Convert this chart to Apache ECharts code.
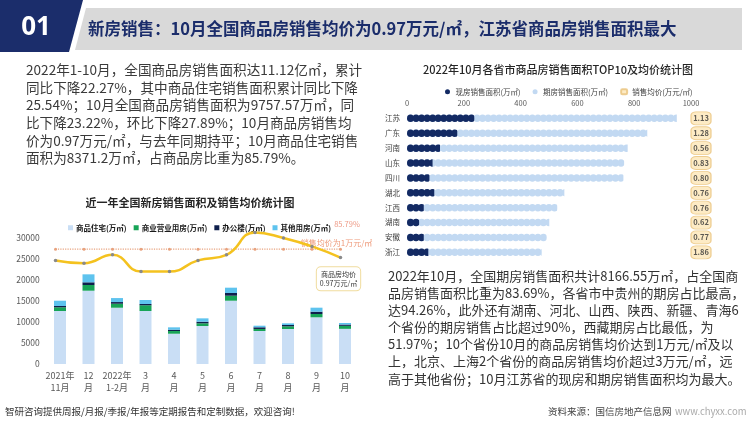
<!DOCTYPE html>
<html><head><meta charset="utf-8">
<script src="https://cdn.jsdelivr.net/npm/echarts@6/dist/echarts.min.js"></script>
<style>html,body{margin:0;padding:0;background:#fff;}#c{width:750px;height:422px;}</style>
</head><body><div id="c"></div>
<script>
// ---- Left chart data ----
const months = ['2021年\n11月','12\n月','2022年\n1-2月','3\n月','4\n月','5\n月','6\n月','7\n月','8\n月','9\n月','10\n月'];
const residential = [12620, 17450, 13400, 12620, 7210, 9050, 15070, 7860, 8330, 11120, 8371.2];
const commercial = [880, 1360, 950, 1360, 640, 640, 1190, 480, 640, 790, 714];
const office = [310, 640, 400, 310, 310, 380, 640, 400, 310, 550, 310];
const other = [1260, 1900, 950, 950, 570, 800, 1270, 380, 400, 950, 362];
const avgPrice = [0.96, 0.95, 0.98, 0.92, 0.92, 0.96, 0.98, 1.06, 1.04, 1.01, 0.97];
const refPrice = [1, 1, 1, 1, 1, 1, 1, 1, 1, 1, 1];
const leftTicks = [0, 5000, 10000, 15000, 20000, 25000, 30000];

// ---- Right chart data ----
const provinces = ['江苏','广东','河南','山东','四川','湖北','江西','湖南','安徽','浙江'];
const spotArea = [237, 177, 116, 90, 79, 96, 59, 43, 59, 75];
const futureArea = [713, 669, 661, 675, 683, 458, 470, 458, 433, 399];
const provPrice = [1.13, 1.28, 0.56, 0.83, 0.80, 0.76, 0.76, 0.62, 0.77, 1.86];
const rightTicks = [0, 200, 400, 600, 800, 1000];

const FF = '"Noto Sans CJK SC","Noto Sans",sans-serif';
const NAMES = ['商品住宅(万㎡)','商业营业用房(万㎡)','办公楼(万㎡)','其他用房(万㎡)'];

const leftLines = [
 '2022年1-10月，全国商品房销售面积达11.12亿㎡，累计',
 '同比下降22.27%，其中商品住宅销售面积累计同比下降',
 '25.54%；10月全国商品房销售面积为9757.57万㎡，同',
 '比下降23.22%，环比下降27.89%；10月商品房销售均',
 '价为0.97万元/㎡，与去年同期持平；10月商品住宅销售',
 '面积为8371.2万㎡，占商品房比重为85.79%。'
];
const rightLines = [
 '2022年10月，全国期房销售面积共计8166.55万㎡，占全国商',
 '品房销售面积比重为83.69%，各省市中贵州的期房占比最高，',
 '达94.26%，此外还有湖南、河北、山西、陕西、新疆、青海6',
 '个省份的期房销售占比超过90%，西藏期房占比最低，为',
 '51.97%；10个省份10月的商品房销售均价达到1万元/㎡及以',
 '上，北京、上海2个省份的商品房销售均价超过3万元/㎡，远',
 '高于其他省份；10月江苏省的现房和期房销售面积均为最大。'
];

function txt(x, y, text, font, fill, align) {
  return {type:'text', x:x, y:y, z:10, style:{text:text, font:font, fill:fill, textAlign:align||'left', textVerticalAlign:'middle'}};
}
const graphics = [
  {type:'polygon', shape:{points:[[0,0],[83,0],[69,52],[0,52]]}, style:{fill:'#1b2d6b'}},
  {type:'polygon', shape:{points:[[86,8],[742,8],[742,50],[75,50]]}, style:{fill:'#d9d9d9'}},
  txt(36, 28, '01', 'bold 26px "Noto Sans",sans-serif', '#ffffff', 'center'),
  txt(88, 29, '新房销售：10月全国商品房销售均价为0.97万元/㎡，江苏省商品房销售面积最大', 'bold 16.5px '+FF, '#1b2d6b'),
  txt(190, 203, '近一年全国新房销售面积及销售均价统计图', 'bold 11px '+FF, '#262626', 'center'),
  txt(558, 70, '2022年10月各省市商品房销售面积TOP10及均价统计图', '500 11px '+FF, '#262626', 'center'),
  txt(347, 224, '85.79%', '7.5px '+FF, '#ee9c88', 'center'),
  txt(5, 411, '智研咨询提供周报/月报/季报/年报等定期报告和定制数据，欢迎咨询!', '9.5px '+FF, '#333333'),
  txt(548, 411, '资料来源：国信房地产信息网', '9.5px '+FF, '#444444'),
  txt(675, 411, 'www.chyxx.com', '9.5px '+FF, '#aaaaaa')
];
leftLines.forEach((l,i)=>graphics.push(txt(26, 70 + i*17.6, l, '13.6px '+FF, '#3a3a3a')));
rightLines.forEach((l,i)=>graphics.push(txt(388, 276 + i*17.1, l, '13px '+FF, '#333333')));

const plain = v => String(v);
const chart = echarts.init(document.getElementById('c'), null, {renderer:'canvas'});
const lastIdx = avgPrice.length - 1;
chart.setOption({
  animation:false,
  backgroundColor:'#ffffff',
  textStyle:{fontFamily:FF},
  graphic: graphics,
  legend:[
    {data:NAMES, left:63, top:219, itemWidth:5, itemHeight:5, itemGap:7, icon:'rect',
     textStyle:{fontSize:7.5, fontWeight:'bold', color:'#1a1a1a', padding:[0,0,0,-2]}},
    {data:[{name:'现房销售面积(万㎡)', icon:'circle'},{name:'期房销售面积(万㎡)', icon:'circle'},{name:'销售均价(万元/㎡)', icon:'roundRect'}],
     left:440, top:83, itemWidth:6, itemHeight:5, itemGap:12,
     textStyle:{fontSize:7.5, color:'#404040'}}
  ],
  grid:[
    {left:45.75, top:238, width:313.5, height:126},
    {left:41.25, top:238, width:313.5, height:126},
    {left:407, top:110.9, width:284, height:148.9},
    {left:691, top:110.9, width:20, height:148.9}
  ],
  xAxis:[
    {gridIndex:0, type:'category', data:months, axisLine:{show:false}, axisTick:{show:false},
     axisLabel:{fontSize:9, color:'#595959', lineHeight:12, margin:6, interval:0}},
    {gridIndex:1, type:'category', data:months, show:false},
    {gridIndex:2, type:'value', position:'top', min:rightTicks[0], max:rightTicks[rightTicks.length-1], interval:rightTicks[1]-rightTicks[0],
     axisLine:{show:false}, axisTick:{show:false}, splitLine:{show:false},
     axisLabel:{fontSize:7.5, color:'#595959', margin:4, formatter:plain}},
    {gridIndex:3, type:'category', data:['均价'], show:false}
  ],
  yAxis:[
    {gridIndex:0, type:'value', min:leftTicks[0], max:leftTicks[leftTicks.length-1], interval:leftTicks[1]-leftTicks[0],
     axisLine:{show:false}, axisTick:{show:false}, splitLine:{show:false},
     axisLabel:{fontSize:8.5, color:'#595959', margin:6, formatter:plain}},
    {gridIndex:1, type:'value', min:0.59, max:1.04, show:false, splitLine:{show:false}},
    {gridIndex:2, type:'category', data:provinces, inverse:true, axisLine:{show:false}, axisTick:{show:false},
     axisLabel:{fontSize:7.5, color:'#404040', margin:7}},
    {gridIndex:3, type:'category', data:provinces, inverse:true, show:false}
  ],
  series:[
    {name:NAMES[0], type:'bar', stack:'a', xAxisIndex:0, yAxisIndex:0, barWidth:12, data:residential, itemStyle:{color:'#c9def5'}},
    {name:NAMES[1], type:'bar', stack:'a', xAxisIndex:0, yAxisIndex:0, barWidth:12, data:commercial, itemStyle:{color:'#17a457'}},
    {name:NAMES[2], type:'bar', stack:'a', xAxisIndex:0, yAxisIndex:0, barWidth:12, data:office, itemStyle:{color:'#0e1f4c'}},
    {name:NAMES[3], type:'bar', stack:'a', xAxisIndex:0, yAxisIndex:0, barWidth:12, data:other, itemStyle:{color:'#5ec3ee'}},
    {name:'1万元线', type:'line', xAxisIndex:1, yAxisIndex:1, clip:false, z:3,
     data: refPrice.map((v,i)=> i===refPrice.length-1 ? {value:v, label:{show:true, position:'top', distance:1, offset:[-4,0],
        formatter:'销售均价为1万元/㎡', fontSize:8, color:'#ee9a7a'}} : v),
     symbol:'circle', symbolSize:3, itemStyle:{color:'#e8a27e'},
     lineStyle:{type:'dotted', color:'#e8a27e', width:1.2}},
    {name:'商品房均价', type:'line', xAxisIndex:1, yAxisIndex:1, clip:false, smooth:0.5, z:4,
     data: avgPrice.map((v,i)=> i===lastIdx ? {value:v, label:{show:true, position:'bottom', distance:8, offset:[-2,0],
        formatter:'商品房均价\n'+v.toFixed(2)+'万元/㎡', fontSize:7, lineHeight:9.5, color:'#333', align:'center',
        backgroundColor:'#ffffff', borderColor:'#f0dc9e', borderWidth:1, borderRadius:4, padding:[2,3]}} : v),
     symbol:'circle', symbolSize:3.5, itemStyle:{color:'#8a8a8a'},
     lineStyle:{color:'#f4c21f', width:2.5}},
    {name:'期房销售面积(万㎡)', type:'pictorialBar', xAxisIndex:2, yAxisIndex:2, z:2,
     data: spotArea.map((v,i)=> v + futureArea[i]),
     symbol:'circle', symbolRepeat:true, symbolClip:true, symbolSize:[7,7.5], symbolMargin:-0.7,
     itemStyle:{color:'#c2d9f2'}},
    {name:'现房销售面积(万㎡)', type:'pictorialBar', xAxisIndex:2, yAxisIndex:2, z:3,
     data: spotArea,
     symbol:'circle', symbolRepeat:true, symbolClip:true, symbolSize:[7,7.5], symbolMargin:-0.7,
     itemStyle:{color:'#132a63'}},
    {name:'销售均价(万元/㎡)', type:'scatter', xAxisIndex:3, yAxisIndex:3,
     data: provPrice.map((v,i)=>[0, i, v]),
     symbol:'roundRect', symbolSize:[20,13],
     itemStyle:{color:'#fde6b6', borderColor:'#e8c27a', borderWidth:1},
     label:{show:true, position:'inside', formatter:p=>p.value[2].toFixed(2), fontSize:7.5, fontWeight:'bold', color:'#333'}}
  ]
});
</script></body></html>
